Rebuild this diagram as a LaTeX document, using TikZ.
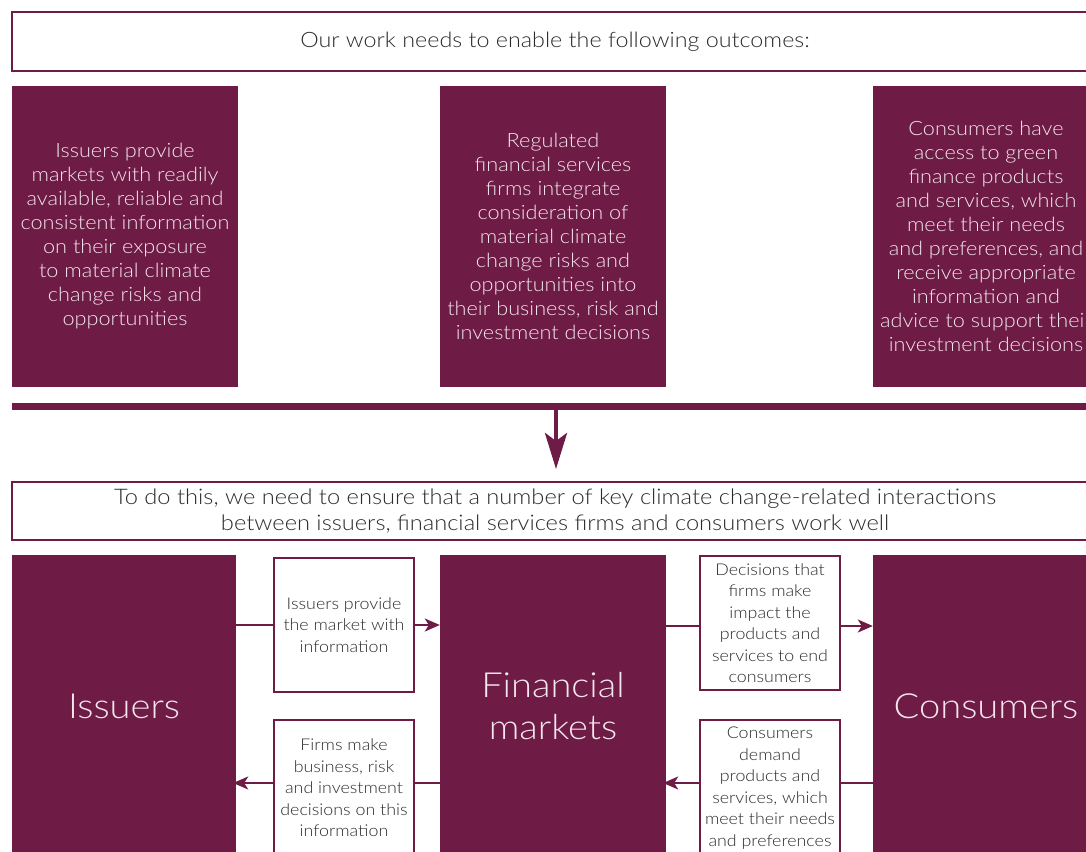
\documentclass[tikz,border=0pt]{standalone}
\usepackage{fontspec}
\setmainfont{Lato Light}[FakeStretch=1.1]
\usetikzlibrary{arrows.meta}
\definecolor{maroon}{HTML}{6E1B45}
\definecolor{pale}{HTML}{F3E6EC}
\definecolor{ink}{HTML}{2B2B2B}
\begin{document}
\begin{tikzpicture}[x=1pt,y=-1pt,
  fillbox/.style={fill=maroon, text=pale, inner sep=0pt, align=center},
  outline/.style={draw=maroon, line width=2pt, fill=white, inner sep=0pt, align=center, text=ink},
  big/.style={font=\fontsize{19.7}{24}\selectfont},
  small/.style={font=\fontsize{16.2}{21.5}\selectfont},
  huge/.style={font=\fontsize{34.6}{42}\selectfont},
  conn/.style={draw=maroon, line width=2pt},
  tip/.style={conn, -{Stealth[length=15pt,width=13pt,inset=4pt]}}
]
\useasboundingbox (0,0) rectangle (1086,851);
\clip (0,0) rectangle (1086,851);

% top banner
\node[outline, minimum width=1086pt, minimum height=59pt, font=\fontsize{21.2}{24}\selectfont] (top) at (555,41.5) {Our work needs to enable the following outcomes:};

% outcomes
\node[fillbox, big, minimum width=226pt, minimum height=301pt] (o1) at (125,236.5) {Issuers provide\\markets with readily\\available, reliable and\\consistent information\\on their exposure\\to material climate\\change risks and\\opportunities};
\node[fillbox, big, minimum width=226pt, minimum height=301pt] (o2) at (553,236.5) {Regulated\\financial services\\firms integrate\\consideration of\\material climate\\change risks and\\opportunities into\\their business, risk and\\investment decisions};
\node[fillbox, big, minimum width=226pt, minimum height=301pt] (o3) at (986,236.5) {Consumers have\\access to green\\finance products\\and services, which\\meet their needs\\and preferences, and\\receive appropriate\\information and\\advice to support their\\investment decisions};

% bar
\node[fill=maroon, inner sep=0pt, minimum width=1086pt, minimum height=7pt] (bar) at (555,406.5) {};

% second banner
\node[outline, minimum width=1086pt, minimum height=58pt, font=\fontsize{21.5}{26}\selectfont] (mid) at (555,511) {To do this, we need to ensure that a number of key climate change-related interactions\\between issuers, financial services firms and consumers work well};

\draw[conn, line width=4.5pt, shorten >=12pt, -{Stealth[length=36pt,width=22pt,inset=8pt]}] ([xshift=1pt]bar.south) -- ([xshift=1pt]mid.north);

% actors
\node[fillbox, huge, minimum width=224pt, minimum height=302pt] (iss) at (124,706) {Issuers};
\node[fillbox, huge, minimum width=226pt, minimum height=302pt] (fin) at (553,706) {Financial\\markets};
\node[fillbox, huge, minimum width=226pt, minimum height=302pt] (con) at (986,706) {Consumers};

% interaction boxes
\node[outline, small, minimum width=140pt, minimum height=134pt] (a) at (344,625) {Issuers provide\\the market with\\information};
\node[outline, small, minimum width=140pt, minimum height=136pt] (b) at (344,788) {Firms make\\business, risk\\and investment\\decisions on this\\information};
\node[outline, small, minimum width=140pt, minimum height=134pt] (c) at (770,623) {Decisions that\\firms make\\impact the\\products and\\services to end\\consumers};
\node[outline, small, minimum width=140pt, minimum height=136pt] (d) at (770,788) {Consumers\\demand\\products and\\services, which\\meet their needs\\and preferences};

% connectors
\draw[conn] (a.west -| iss.east) -- (a.west);
\draw[tip] (a.east) -- (a.east -| fin.west);
\draw[conn] ([yshift=5pt]b.east -| fin.west) -- ([yshift=5pt]b.east);
\draw[tip, shorten >=-3pt] ([yshift=5pt]b.west) -- ([yshift=5pt]b.west -| iss.east);
\draw[conn] ([yshift=-3pt]c.west -| fin.east) -- ([yshift=-3pt]c.west);
\draw[tip] ([yshift=-3pt]c.east) -- ([yshift=-3pt]c.east -| con.west);
\draw[conn] ([yshift=5pt]d.east -| con.west) -- ([yshift=5pt]d.east);
\draw[tip, shorten >=-3pt] ([yshift=5pt]d.west) -- ([yshift=5pt]d.west -| fin.east);
\end{tikzpicture}
\end{document}
